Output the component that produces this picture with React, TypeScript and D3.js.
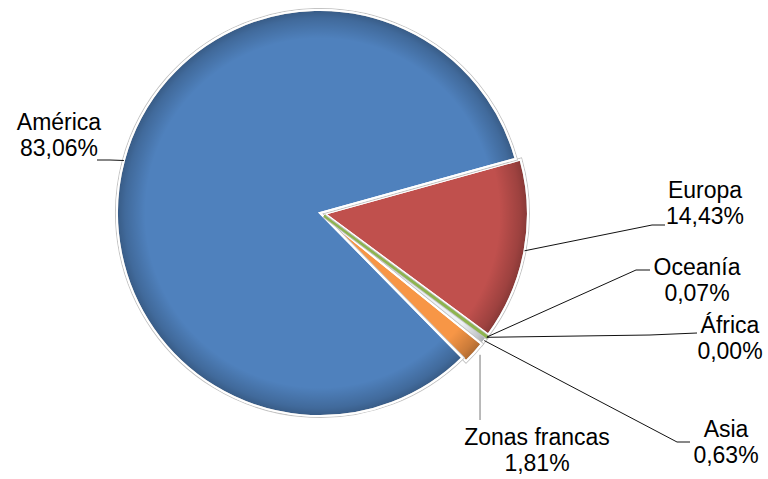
import React from "react";
import * as d3 from "d3";

// data (porcentaje por destino)
const regions = ["Europa", "Oceanía", "África", "Asia", "Zonas francas", "América"];
const shares = [14.43, 0.07, 0.0, 0.63, 1.81, 83.06];
const shareLabels = ["14,43%", "0,07%", "0,00%", "0,63%", "1,81%", "83,06%"];
const colors = ["#C0504D", "#8DB44E", "#4BACC6", "#EEF2F6", "#F79646", "#4F81BD"];

// label layout: text centre, first baseline, leader elbow / end
const labelLayout = [
  { x: 705, y: 198, elbow: [652, 225], end: [665, 225] },
  { x: 697, y: 275, elbow: [636, 270], end: [650, 270] },
  { x: 730, y: 333, elbow: [650, 335], end: [697, 333] },
  { x: 726, y: 437, elbow: [677, 442], end: [690, 442] },
  { x: 537, y: 445, elbow: null, end: null },
  { x: 59, y: 130, elbow: [110, 160], end: [97, 160] },
];

const W = 768;
const H = 479;
const cx = 320;
const cy = 213;
const radius = 203;

const App = () => {
  const data = regions.map((r, i) => ({ region: r, value: shares[i], label: shareLabels[i], i }));

  const startA = (74.5 * Math.PI) / 180;
  const pie = d3
    .pie<any>()
    .sort(null)
    .value((d) => d.value)
    .startAngle(startA)
    .endAngle(startA + 2 * Math.PI);

  const arcs = pie(data);
  const arc = d3.arc<any>().innerRadius(0).outerRadius(radius);

  // explode everything except América a little
  const offset = (d: any) => (d.data.region === "América" ? 0 : 5);
  const shift = (d: any) => {
    const a = (d.startAngle + d.endAngle) / 2;
    const o = offset(d);
    return [Math.sin(a) * o, -Math.cos(a) * o];
  };
  const edgePoint = (d: any, extra = 0) => {
    const a = (d.startAngle + d.endAngle) / 2;
    const rr = radius + offset(d) + extra;
    return [cx + Math.sin(a) * rr, cy - Math.cos(a) * rr];
  };

  // big slices first, hairline slices on top so they stay visible
  const drawOrder = [...arcs].sort((a, b) => {
    const ta = a.data.value < 0.5 ? 1 : 0;
    const tb = b.data.value < 0.5 ? 1 : 0;
    return ta - tb;
  });

  return (
    <svg width={W} height={H} style={{ position: "absolute", left: 0, top: 0, background: "#fff" }}>
      <defs>
        <radialGradient id="rim" gradientUnits="userSpaceOnUse" cx={0} cy={0} r={radius}>
          <stop offset="0%" stopColor="#000" stopOpacity={0} />
          <stop offset="86%" stopColor="#000" stopOpacity={0} />
          <stop offset="96%" stopColor="#000" stopOpacity={0.18} />
          <stop offset="100%" stopColor="#000" stopOpacity={0.3} />
        </radialGradient>
      </defs>

      <g transform={`translate(${cx},${cy})`}>
        {drawOrder.map((d, k) => {
          if (d.data.value === 0) return null;
          const [dx, dy] = shift(d);
          const tiny = d.data.value < 0.5;
          return (
            <g key={k} transform={`translate(${dx},${dy})`}>
              <path d={arc(d) as string} fill="none" stroke="#c4c4c4" strokeWidth={4} />
              <path
                d={arc(d) as string}
                fill={colors[d.data.i]}
                stroke={tiny ? colors[d.data.i] : "#fff"}
                strokeWidth={tiny ? 2.2 : 2}
              />
              {!tiny && <path d={arc(d) as string} fill="url(#rim)" stroke="none" />}
              {!tiny && <path d={arc(d) as string} fill="none" stroke="#fff" strokeWidth={2} />}
            </g>
          );
        })}
      </g>

      {/* leader lines */}
      {arcs.map((d, k) => {
        const lay = labelLayout[d.data.i];
        const s = edgePoint(d);
        const pts = lay.elbow ? [s, lay.elbow, lay.end] : [[s[0] + 6, s[1] + 2], [s[0] + 6, 420]];
        const line = d3.line()(pts as [number, number][]);
        return (
          <path
            key={"l" + k}
            d={line as string}
            fill="none"
            stroke={lay.elbow ? "#111" : "#777"}
            strokeWidth={1}
          />
        );
      })}

      {/* labels */}
      {data.map((d, k) => {
        const lay = labelLayout[d.i];
        return (
          <text
            key={"t" + k}
            x={lay.x}
            y={lay.y}
            textAnchor="middle"
            fontFamily="'Liberation Sans', Arial, sans-serif"
            fontSize={23}
            fill="#000"
          >
            <tspan x={lay.x}>{d.region}</tspan>
            <tspan x={lay.x} dy={26}>
              {d.label}
            </tspan>
          </text>
        );
      })}
    </svg>
  );
};

export default App;
